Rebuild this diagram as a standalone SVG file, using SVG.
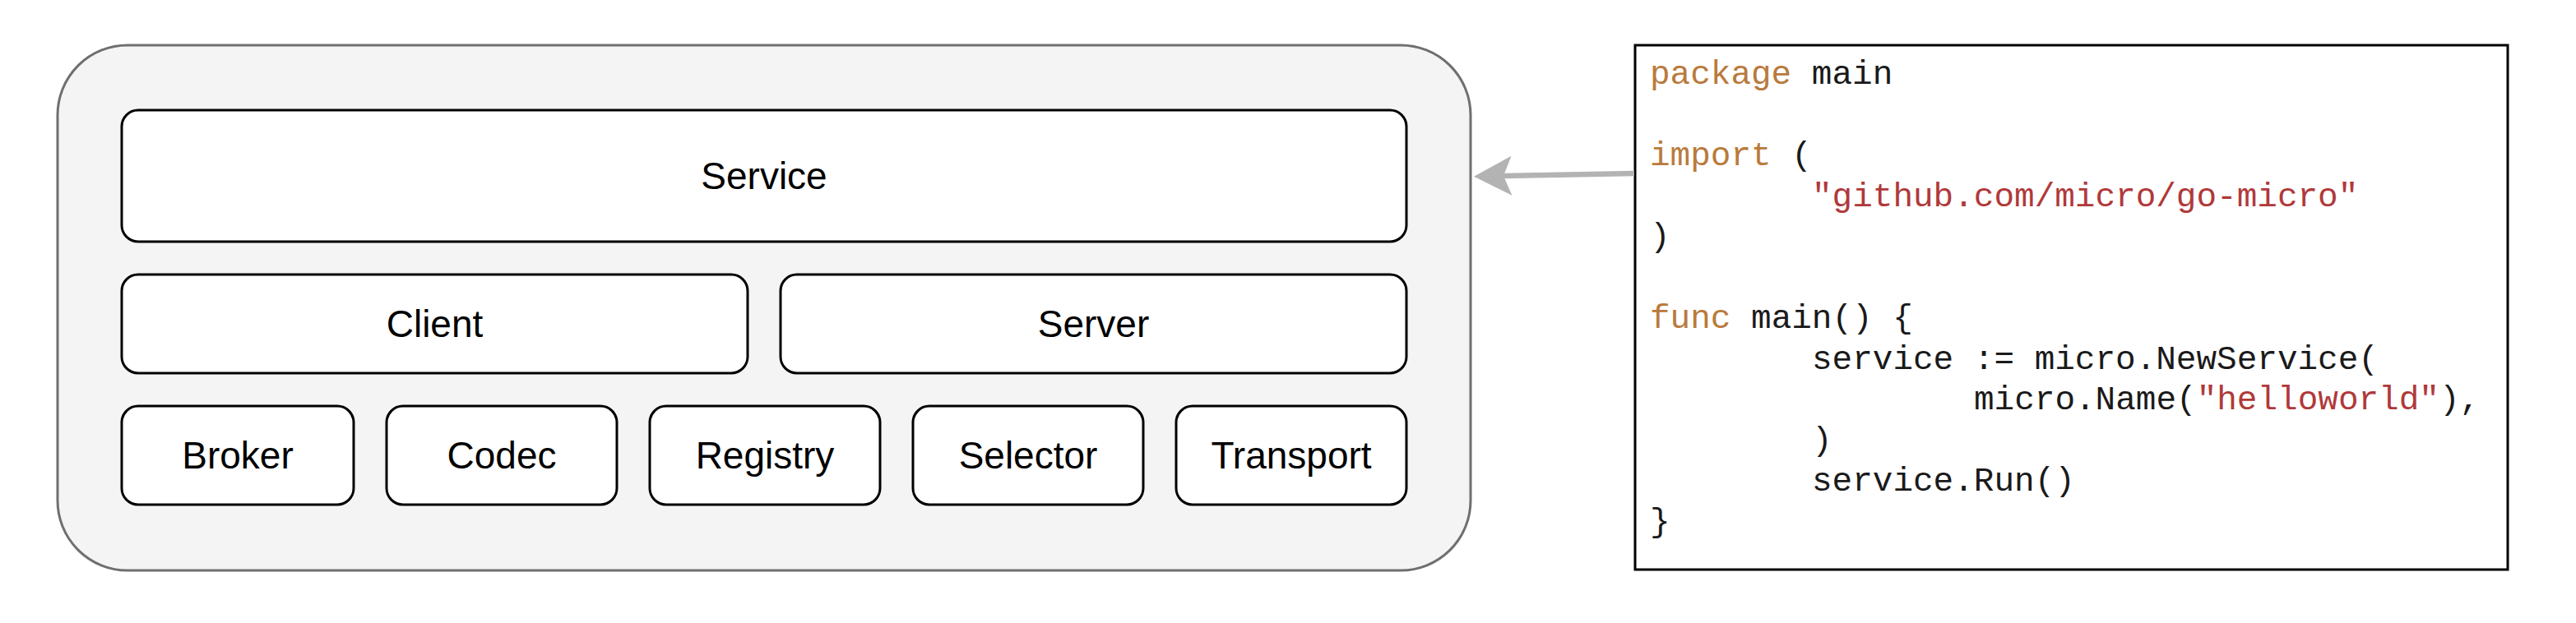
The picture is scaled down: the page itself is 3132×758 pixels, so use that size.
<svg xmlns="http://www.w3.org/2000/svg" width="3132" height="758" viewBox="0 0 3132 758">
<style>
.box{fill:#ffffff;stroke:#000000;stroke-width:3}
.lbl{font-family:"Liberation Sans",Arial,sans-serif;font-size:46px;fill:#000000;text-anchor:middle}
.code{font-family:"Liberation Mono","DejaVu Sans Mono",monospace;font-size:41px;fill:#1a1a1a}
.kw{fill:#b97a3c}
.str{fill:#b0393a}
</style>
<defs>
<marker id="arr" markerUnits="userSpaceOnUse" markerWidth="60" markerHeight="60" viewBox="0 0 60 60" refX="14" refY="30" orient="auto">
<path d="M50,30 L4,6 L14,30 L4,54 Z" fill="#b3b3b3"/>
</marker>
</defs>
<rect width="3132" height="758" fill="#ffffff"/>
<g id="container">
<rect x="70" y="55" width="1718" height="639" rx="85" ry="85" fill="#f4f4f4" stroke="#6f6f6f" stroke-width="3"/>
</g>
<g id="service"><rect class="box" x="148" y="134" width="1562" height="160" rx="20"/><text class="lbl" x="929" y="230">Service</text></g>
<g id="client"><rect class="box" x="148" y="334" width="761" height="120" rx="20"/><text class="lbl" x="528.5" y="410">Client</text></g>
<g id="server"><rect class="box" x="949" y="334" width="761" height="120" rx="20"/><text class="lbl" x="1329.5" y="410">Server</text></g>
<g id="broker"><rect class="box" x="148" y="494" width="282" height="120" rx="20"/><text class="lbl" x="289" y="570">Broker</text></g>
<g id="codec"><rect class="box" x="470" y="494" width="280" height="120" rx="20"/><text class="lbl" x="610" y="570">Codec</text></g>
<g id="registry"><rect class="box" x="790" y="494" width="280" height="120" rx="20"/><text class="lbl" x="930" y="570">Registry</text></g>
<g id="selector"><rect class="box" x="1110" y="494" width="280" height="120" rx="20"/><text class="lbl" x="1250" y="570">Selector</text></g>
<g id="transport"><rect class="box" x="1430" y="494" width="280" height="120" rx="20"/><text class="lbl" x="1570" y="570">Transport</text></g>
<g id="code">
<rect x="1988" y="55" width="1061" height="638" fill="#ffffff" stroke="#000000" stroke-width="3"/>
<text class="code" x="2006" y="102"><tspan class="kw">package</tspan> main</text>
<text class="code" x="2006" y="201"><tspan class="kw">import</tspan> (</text>
<text class="code" x="2203" y="250.5"><tspan class="str">"github.com/micro/go-micro"</tspan></text>
<text class="code" x="2006" y="300">)</text>
<text class="code" x="2006" y="399"><tspan class="kw">func</tspan> main() {</text>
<text class="code" x="2203" y="448.5">service := micro.NewService(</text>
<text class="code" x="2400" y="498">micro.Name(<tspan class="str">"helloworld"</tspan>),</text>
<text class="code" x="2203" y="547.5">)</text>
<text class="code" x="2203" y="597">service.Run()</text>
<text class="code" x="2006" y="646.5">}</text>
</g>
<g id="connectors">
<line x1="1987" y1="211" x2="1828" y2="214" stroke="#b3b3b3" stroke-width="6.5" marker-end="url(#arr)"/>
</g>
</svg>
